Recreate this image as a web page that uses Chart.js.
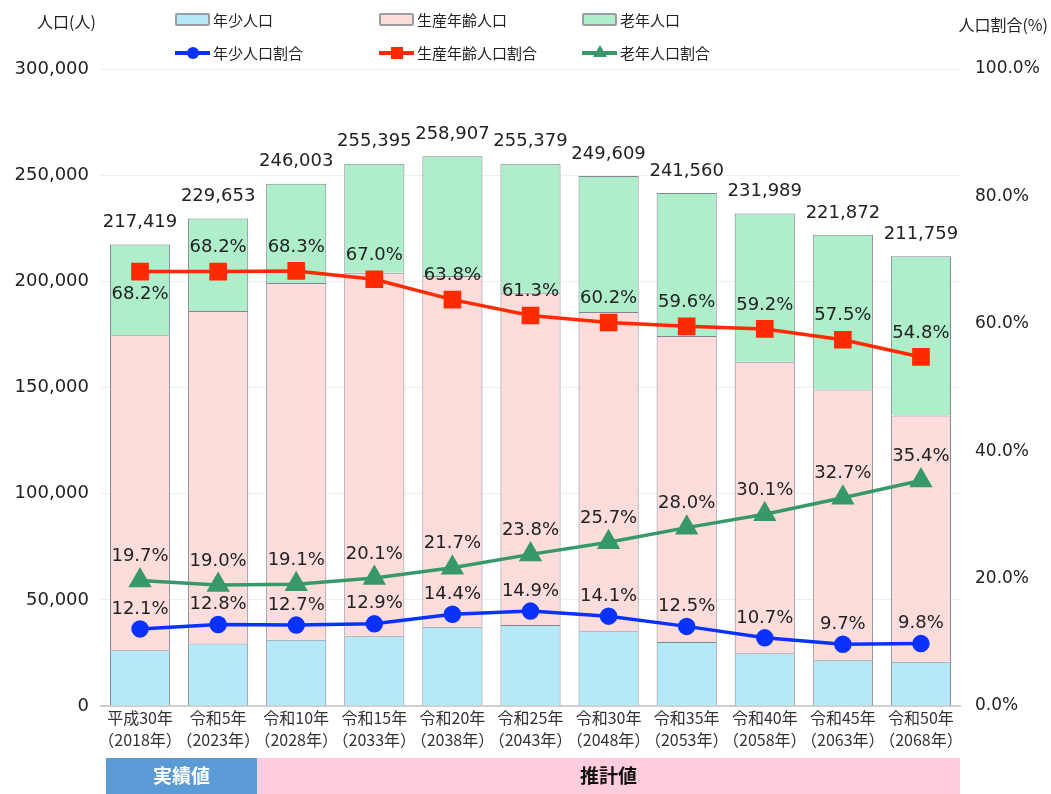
<!DOCTYPE html>
<html lang="ja">
<head>
<meta charset="utf-8">
<script src="https://cdn.jsdelivr.net/npm/chart.js@4.4.1/dist/chart.umd.min.js"></script>
<style>
  body { margin: 0; background: #fff; }
  #wrap { position: relative; width: 1051px; height: 794px; }
  #cv { position: absolute; left: 0; top: 0; }
  .txt { position: absolute; font-family: "Noto Sans CJK JP", sans-serif; color: #222; line-height: 1; white-space: nowrap; }
  .leg { position: absolute; display: flex; align-items: center; font-family: "Noto Sans CJK JP", sans-serif; font-size: 15px; color: #222; white-space: nowrap; }
  .box { width: 31px; height: 9px; border: 2px solid #9a9da3; border-radius: 2px; margin-right: 3px; }
  .ln { position: relative; width: 35px; height: 4px; margin-right: 3px; }
  .ln i { position: absolute; left: 50%; top: 50%; transform: translate(-50%, -50%); display: block; }
</style>
</head>
<body>
<div id="wrap">
  <canvas id="cv" width="1051" height="794"></canvas>
  <div class="txt" style="left:37px;top:13px;font-size:16px;">人口(人)</div>
  <div class="txt" style="right:3px;top:16px;font-size:16px;">人口割合(%)</div>

  <div class="leg" style="left:175px;top:9px;"><span class="box" style="background:#b5e9f7"></span>年少人口</div>
  <div class="leg" style="left:379px;top:9px;"><span class="box" style="background:#fddcdc"></span>生産年齢人口</div>
  <div class="leg" style="left:582px;top:9px;"><span class="box" style="background:#aeeecb"></span>老年人口</div>

  <div class="leg" style="left:175px;top:42px;"><span class="ln" style="background:#0a32ff"><i style="width:12px;height:12px;border-radius:50%;background:#0a32ff"></i></span>年少人口割合</div>
  <div class="leg" style="left:379px;top:42px;"><span class="ln" style="background:#ff2a00"><i style="width:12px;height:12px;background:#ff2a00"></i></span>生産年齢人口割合</div>
  <div class="leg" style="left:582px;top:42px;"><span class="ln" style="background:#37996a"><i style="width:0;height:0;border-left:7px solid transparent;border-right:7px solid transparent;border-bottom:12px solid #37996a;margin-top:-2px"></i></span>老年人口割合</div>
</div>

<script>
// 年次
const years = [
  ['平成30年', '（2018年）'], ['令和5年', '（2023年）'], ['令和10年', '（2028年）'],
  ['令和15年', '（2033年）'], ['令和20年', '（2038年）'], ['令和25年', '（2043年）'],
  ['令和30年', '（2048年）'], ['令和35年', '（2053年）'], ['令和40年', '（2058年）'],
  ['令和45年', '（2063年）'], ['令和50年', '（2068年）']
];

// 総人口（棒の上のラベル）
const totals = [217419, 229653, 246003, 255395, 258907, 255379, 249609, 241560, 231989, 221872, 211759];

// 人口（人）
const youngPop = [26300, 29400, 31200, 32900, 37300, 38100, 35200, 30200, 24800, 21500, 20800];
const workPop  = [148300, 156600, 168000, 171100, 165200, 156500, 150300, 144000, 137300, 127600, 116000];
const oldPop   = [42800, 43600, 46800, 51400, 56400, 60800, 64100, 67400, 69900, 72800, 75000];

// 人口割合（%）
const youngRate = [12.1, 12.8, 12.7, 12.9, 14.4, 14.9, 14.1, 12.5, 10.7, 9.7, 9.8];
const workRate  = [68.2, 68.2, 68.3, 67.0, 63.8, 61.3, 60.2, 59.6, 59.2, 57.5, 54.8];
const oldRate   = [19.7, 19.0, 19.1, 20.1, 21.7, 23.8, 25.7, 28.0, 30.1, 32.7, 35.4];

const LABEL_FONT = '18px "DejaVu Sans", sans-serif';

const labelPlugin = {
  id: 'valueLabels',
  afterDatasetsDraw(chart) {
    const ctx = chart.ctx;
    ctx.save();
    ctx.font = LABEL_FONT;
    ctx.fillStyle = '#222';
    ctx.textAlign = 'center';
    ctx.textBaseline = 'middle';

    // 総数
    chart.getDatasetMeta(2).data.forEach((bar, i) => {
      ctx.fillText(totals[i].toLocaleString('en-US'), bar.x, bar.y - 22);
    });

    // 割合
    [3, 4, 5].forEach(di => {
      const vals = chart.data.datasets[di].data;
      chart.getDatasetMeta(di).data.forEach((pt, i) => {
        let dy = di === 3 ? -20 : -24;
        if (di === 4 && i === 0) dy = 23; // 先頭だけ下側
        ctx.fillText(vals[i].toFixed(1) + '%', pt.x, pt.y + dy);
      });
    });
    ctx.restore();
  },
  afterDraw(chart) {
    // 実績値 / 推計値 の帯
    const ctx = chart.ctx, x = chart.scales.x, area = chart.chartArea;
    const split = (x.getPixelForValue(1) + x.getPixelForValue(2)) / 2;
    const top = area.bottom + 52, h = chart.height - top;
    const left = area.left + 5;
    ctx.save();
    ctx.fillStyle = '#5b9bd5';
    ctx.fillRect(left, top, split - left, h);
    ctx.fillStyle = '#ffcce0';
    ctx.fillRect(split, top, area.right - split, h);
    ctx.font = 'bold 19px "Noto Sans CJK JP", sans-serif';
    ctx.textAlign = 'center';
    ctx.textBaseline = 'middle';
    ctx.fillStyle = '#fff';
    ctx.fillText('実績値', (left + split) / 2, top + h / 2);
    ctx.fillStyle = '#111';
    ctx.fillText('推計値', (split + area.right) / 2, top + h / 2);
    ctx.restore();
  }
};

const barCommon = {
  type: 'bar',
  yAxisID: 'y',
  borderColor: '#80858f',
  borderWidth: 1,
  barPercentage: 0.77,
  categoryPercentage: 1,
  order: 2
};

const lineCommon = {
  type: 'line',
  yAxisID: 'y1',
  borderWidth: 3.5,
  tension: 0,
  order: 1
};

new Chart(document.getElementById('cv'), {
  data: {
    labels: years,
    datasets: [
      { ...barCommon, label: '年少人口', data: youngPop, backgroundColor: '#b5e9f7' },
      { ...barCommon, label: '生産年齢人口', data: workPop, backgroundColor: '#fddcdc' },
      { ...barCommon, label: '老年人口', data: oldPop, backgroundColor: '#aeeecb' },
      { ...lineCommon, label: '年少人口割合', data: youngRate, borderColor: '#0a32ff', backgroundColor: '#0a32ff',
        pointStyle: 'circle', pointRadius: 7 },
      { ...lineCommon, label: '生産年齢人口割合', data: workRate, borderColor: '#ff2a00', backgroundColor: '#ff2a00',
        pointStyle: 'rect', pointRadius: 10 },
      { ...lineCommon, label: '老年人口割合', data: oldRate, borderColor: '#37996a', backgroundColor: '#37996a',
        pointStyle: 'triangle', pointRadius: 10 }
    ]
  },
  options: {
    responsive: false,
    animation: false,
    layout: { padding: { top: 69, bottom: 34, left: 0, right: 0 } },
    plugins: { legend: { display: false }, tooltip: { enabled: false } },
    scales: {
      x: {
        stacked: true,
        grid: { display: false, drawTicks: false },
        border: { color: '#cfcfcf', width: 2 },
        ticks: {
          autoSkip: false, maxRotation: 0, padding: 1, color: '#333',
          font: { family: '"Noto Sans CJK JP", sans-serif', size: 16, lineHeight: 1.36 }
        },
        afterFit: s => { s.height = 54; }
      },
      y: {
        stacked: true,
        min: 0, max: 300000,
        ticks: {
          stepSize: 50000, padding: 12, color: '#222',
          font: { family: '"DejaVu Sans", sans-serif', size: 18 },
          callback: v => v.toLocaleString('en-US')
        },
        grid: { color: '#eeeeee', drawTicks: false },
        border: { display: false },
        afterFit: s => { s.width = 101; }
      },
      y1: {
        position: 'right',
        min: 0, max: 100,
        ticks: {
          stepSize: 20, padding: 15, color: '#222',
          font: { family: '"DejaVu Sans", sans-serif', size: 17 },
          callback: v => v.toFixed(1) + '%'
        },
        grid: { display: false, drawTicks: false },
        border: { display: false },
        afterFit: s => { s.width = 91; }
      }
    }
  },
  plugins: [labelPlugin]
});
</script>
</body>
</html>
